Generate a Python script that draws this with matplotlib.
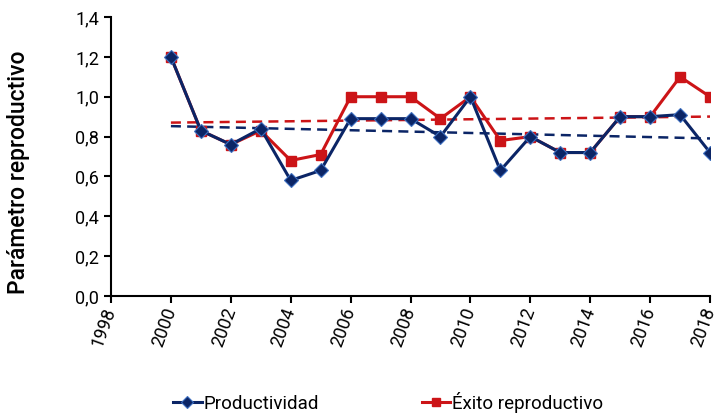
import numpy as np
import matplotlib
matplotlib.use("Agg")
import matplotlib.pyplot as plt
from matplotlib.ticker import FuncFormatter, MultipleLocator

# datos
years = [2000, 2001, 2002, 2003, 2004, 2005, 2006, 2007, 2008, 2009,
         2010, 2011, 2012, 2013, 2014, 2015, 2016, 2017, 2018]
productividad = [1.20, 0.83, 0.76, 0.84, 0.58, 0.63, 0.89, 0.89, 0.89, 0.80,
                 1.00, 0.63, 0.80, 0.72, 0.72, 0.90, 0.90, 0.91, 0.72]
exito = [1.20, 0.83, 0.76, 0.83, 0.68, 0.71, 1.00, 1.00, 1.00, 0.89,
         1.00, 0.78, 0.80, 0.72, 0.72, 0.90, 0.90, 1.10, 1.00]
x_ticks = list(range(1998, 2019, 2))

blue = "#0b2566"
red = "#cc1417"

plt.rcParams['font.family'] = ['Roboto', 'DejaVu Sans']

fig = plt.figure(figsize=(7.19, 4.15), dpi=100)
ax = fig.add_axes([0.1544, 0.2867, 0.8331, 0.6723])

x = np.array(years)
l1, = ax.plot(years, productividad, color=blue, lw=2.2, marker='D', ms=7.5,
              mfc=blue, mec="#3d6fc0", mew=0.8, label="Productividad", zorder=4)
l2, = ax.plot(years, exito, color=red, lw=2.2, marker='s', ms=7.5,
              mfc=red, mec=red, label="Éxito reproductivo", zorder=3)

# lineas de tendencia
for serie, col in [(productividad, blue), (exito, red)]:
    p = np.polyfit(x, serie, 1)
    ax.plot(x, np.polyval(p, x), color=col, lw=1.8, ls=(0, (4, 2.5)), zorder=2)

ax.set_xlim(1998, 2018)
ax.set_ylim(0, 1.4)
ax.set_xticks(x_ticks)
ax.yaxis.set_major_locator(MultipleLocator(0.2))
ax.yaxis.set_major_formatter(FuncFormatter(lambda v, pos: f"{v:.1f}".replace(".", ",")))
ax.tick_params(labelsize=13, width=1.5, length=5, direction='out')
for lab in ax.get_xticklabels():
    lab.set_rotation(70)
    lab.set_ha('right')
    lab.set_va('center')
    lab.set_rotation_mode('anchor')
ax.spines['top'].set_visible(False)
ax.spines['right'].set_visible(False)
ax.spines['left'].set_linewidth(1.5)
ax.spines['bottom'].set_linewidth(1.5)
ax.set_ylabel("Parámetro reproductivo", fontsize=16.5, fontweight='medium')
ax.yaxis.set_label_coords(-0.135, 0.445)

fig.legend(handles=[l1, l2], loc='lower center', bbox_to_anchor=(0.54, -0.035),
           ncol=2, frameon=False, fontsize=13.5, columnspacing=5.5,
           handlelength=1.5, handletextpad=0.1, markerscale=0.8)

fig.savefig("out.png", dpi=100)
